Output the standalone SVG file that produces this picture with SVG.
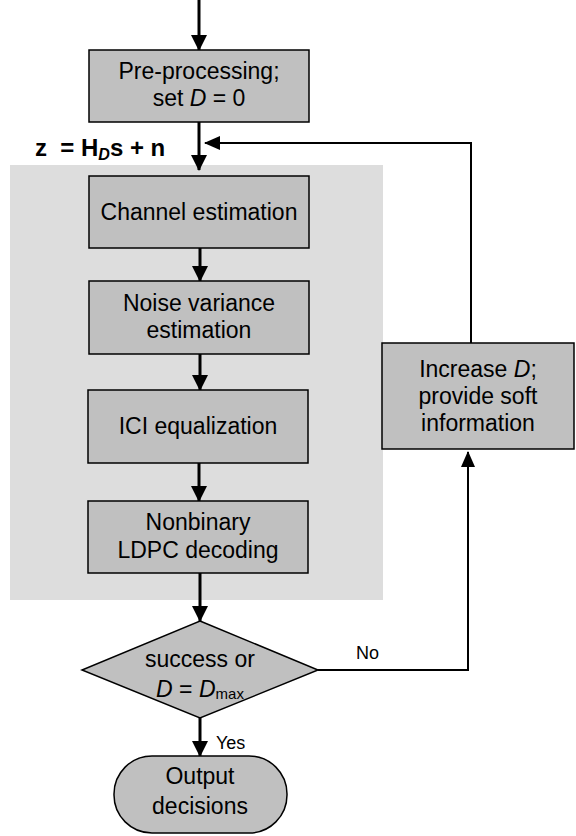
<svg xmlns="http://www.w3.org/2000/svg" width="576" height="836" viewBox="0 0 576 836">
<style>
.box{fill:#c0c0c0;stroke:#000;stroke-width:1.5}
.t{font-family:"Liberation Sans",Arial,sans-serif;font-size:23px;fill:#000;text-anchor:middle}
.lbl{font-family:"Liberation Sans",Arial,sans-serif;font-size:18px;fill:#000}
.main{stroke:#000;stroke-width:3;fill:none}
.fb{stroke:#000;stroke-width:2;fill:none}
</style>
<defs>
<marker id="ah" markerUnits="userSpaceOnUse" markerWidth="16" markerHeight="16" refX="15" refY="8" orient="auto" viewBox="0 0 16 16">
<path d="M0,0 L16,8 L0,16 Z" fill="#000"/>
</marker>
<marker id="ah2" markerUnits="userSpaceOnUse" markerWidth="16" markerHeight="14" refX="15" refY="7" orient="auto" viewBox="0 0 16 14">
<path d="M0,0 L16,7 L0,14 Z" fill="#000"/>
</marker>
</defs>
<rect x="10" y="165" width="373" height="435" fill="#dddddd"/>
<g id="connectors">
<line class="main" x1="199" y1="0" x2="199" y2="50" marker-end="url(#ah)"/>
<line class="main" x1="199" y1="122" x2="199" y2="170" marker-end="url(#ah)"/>
<line class="main" x1="200" y1="248" x2="200" y2="281" marker-end="url(#ah)"/>
<line class="main" x1="200" y1="354" x2="200" y2="390" marker-end="url(#ah)"/>
<line class="main" x1="199" y1="463" x2="199" y2="501" marker-end="url(#ah)"/>
<line class="main" x1="200" y1="573" x2="200" y2="621" marker-end="url(#ah)"/>
<line class="main" x1="200" y1="718" x2="200" y2="756" marker-end="url(#ah)"/>
<polyline class="fb" points="318,670 468,670 468,452" marker-end="url(#ah2)"/>
<polyline class="fb" points="471,343 471,143 205,143" marker-end="url(#ah2)"/>
<text class="lbl" x="356" y="659">No</text>
<text class="lbl" x="216" y="749">Yes</text>
</g>
<text x="35" y="156" font-family="'Liberation Sans',Arial,sans-serif" font-size="24" font-weight="bold" xml:space="preserve">z  = H<tspan font-style="italic" font-size="16" dy="4">D</tspan><tspan dy="-4">s + n</tspan></text>
<g id="preprocessing">
<rect class="box" x="89" y="50" width="220" height="72"/>
<text class="t" x="199" y="79">Pre-processing;</text>
<text class="t" x="199" y="106">set <tspan font-style="italic">D</tspan> = 0</text>
</g>
<g id="channel">
<rect class="box" x="89" y="176" width="220" height="72"/>
<text class="t" x="199" y="220">Channel estimation</text>
</g>
<g id="noise">
<rect class="box" x="89" y="281" width="220" height="73"/>
<text class="t" x="199" y="311">Noise variance</text>
<text class="t" x="199" y="338">estimation</text>
</g>
<g id="ici">
<rect class="box" x="88" y="390" width="220" height="73"/>
<text class="t" x="198" y="434">ICI equalization</text>
</g>
<g id="ldpc">
<rect class="box" x="88" y="501" width="220" height="72"/>
<text class="t" x="198" y="530">Nonbinary</text>
<text class="t" x="198" y="558">LDPC decoding</text>
</g>
<g id="decision">
<polygon class="box" points="200,621 318,670 200,718 82,670"/>
<text class="t" x="200" y="667">success or</text>
<text class="t" x="200" y="697"><tspan font-style="italic">D</tspan> = <tspan font-style="italic">D</tspan><tspan font-size="15" dy="2">max</tspan></text>
</g>
<g id="increase">
<rect class="box" x="382" y="343" width="192" height="106"/>
<text class="t" x="478" y="377">Increase <tspan font-style="italic">D</tspan>;</text>
<text class="t" x="478" y="404">provide soft</text>
<text class="t" x="478" y="431">information</text>
</g>
<g id="output">
<rect class="box" x="114" y="756" width="173" height="77" rx="38" ry="38"/>
<text class="t" x="200" y="784">Output</text>
<text class="t" x="200" y="814">decisions</text>
</g>
</svg>
